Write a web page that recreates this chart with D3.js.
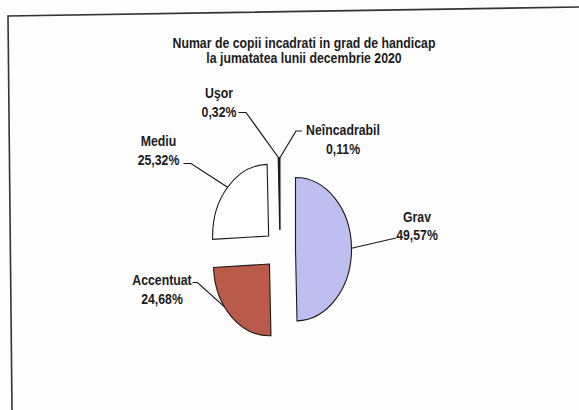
<!DOCTYPE html>
<html>
<head>
<meta charset="utf-8">
<script src="https://cdn.jsdelivr.net/npm/d3@7"></script>
<style>
  body { margin: 0; background: #fdfdfd; }
  text { font-family: "Liberation Sans", Arial, sans-serif;
         font-weight: bold; font-size: 15px; fill: #1c1c1c; }
</style>
</head>
<body>
<div id="chart"></div>
<script>
width = 579;
height = 410;

// data
var titleLines = ["Numar de copii incadrati in grad de handicap", "la jumatatea lunii decembrie 2020"];
var categories = ["Grav", "Accentuat", "Mediu", "Uşor", "Neîncadrabil"];
var percents = [49.57, 24.68, 25.32, 0.32, 0.11];
var colors = ["#bebef0", "#b95a4b", "#ffffff", "#222222", "#222222"];

// layout of the labels: centre x, first baseline, leader start, elbow, anchor angle on arc (deg, null = bisector)
var labelLayout = [
  {x: 417, y: 221.5, lx: 396, ly: 238, ex: 396, angle: null},
  {x: 162, y: 285, lx: 192.5, ly: 282.5, ex: 197.5, angle: 233},
  {x: 158.5, y: 146, lx: 183.5, ly: 163.5, ex: 191, angle: null},
  {x: 219, y: 98, lx: 238.5, ly: 112.5, ex: 246, angle: null},
  {x: 343, y: 135, lx: 302, ly: 131, ex: 296, angle: null}
];

var cx = 280, cy = 249.5, r = 56, ky = 1.28, explode = 15.5;
var narrow = 0.82; // no narrow font installed, squeeze the bold sans

const svg = d3.select("#chart")
              .append("svg")
              .attr("width", width)
              .attr("height", height);

// scanned frame (slightly tilted)
svg.append("path")
    .attr("d", "M579,7 L8,16 L12,410")
    .attr("fill", "none")
    .attr("stroke", "#333")
    .attr("stroke-width", 1.6);

function narrowText(sel, x, y, s) {
  sel.append("g")
      .attr("transform", "translate(" + x + "," + y + ") scale(" + narrow + ",1)")
    .append("text")
      .attr("text-anchor", "middle")
      .text(s);
}

var titleG = svg.append("g");
titleLines.forEach(function(t, i) { narrowText(titleG, 304, 47.5 + i * 15.5, t); });

var pie = d3.pie().sort(null).value(function(d) { return d; });
var arcs = pie(percents);
var arc = d3.arc().innerRadius(0).outerRadius(r);

function mid(d) { return (d.startAngle + d.endAngle) / 2; }

var pieG = svg.append("g")
    .attr("transform", "translate(" + cx + "," + cy + ") scale(1," + ky + ")");

pieG.selectAll("path")
    .data(arcs)
    .enter().append("path")
      .attr("transform", function(d) {
        var a = mid(d);
        return "translate(" + (Math.sin(a) * explode) + "," + (-Math.cos(a) * explode) + ")";
      })
      .attr("d", arc)
      .attr("fill", function(d, i) { return colors[i]; })
      .attr("stroke", "#1a1a1a")
      .attr("stroke-width", 1.1)
      .attr("vector-effect", "non-scaling-stroke");

// leader lines
function anchor(d, i) {
  var a = mid(d);
  var b = labelLayout[i].angle === null ? a : labelLayout[i].angle * Math.PI / 180;
  return [cx + Math.sin(a) * explode + Math.sin(b) * r,
          cy + ky * (-Math.cos(a) * explode - Math.cos(b) * r)];
}

svg.append("g")
  .selectAll("path")
  .data(arcs)
  .enter().append("path")
    .attr("d", function(d, i) {
      var L = labelLayout[i], p = anchor(d, i);
      return d3.line()([[L.lx, L.ly], [L.ex, L.ly], p]);
    })
    .attr("fill", "none")
    .attr("stroke", "#1a1a1a")
    .attr("stroke-width", 1.2);

// labels
var labG = svg.append("g");
arcs.forEach(function(d, i) {
  var L = labelLayout[i];
  narrowText(labG, L.x, L.y, categories[i]);
  narrowText(labG, L.x, L.y + 18.5, d.data.toFixed(2).replace(".", ",") + "%");
});
</script>
</body>
</html>
